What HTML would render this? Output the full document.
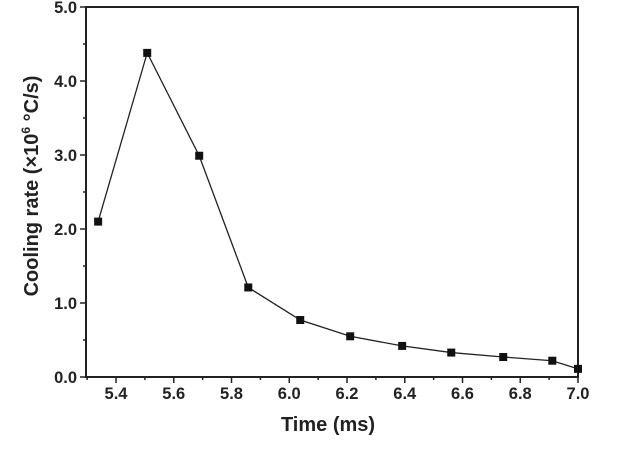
<!DOCTYPE html>
<html><head><meta charset="utf-8"><style>
body{margin:0;background:#fff;}
svg text{font-family:"Liberation Sans",Arial,sans-serif;font-weight:bold;fill:#222;}
</style></head><body>
<svg width="640" height="456" viewBox="0 0 640 456">
<g id="axes"></g><g id="series"></g>
</svg>
<script>
const times=[5.338,5.508,5.688,5.858,6.038,6.211,6.391,6.561,6.741,6.911,7.0];
const rates=[2.1,4.38,2.99,1.21,0.77,0.55,0.42,0.33,0.27,0.22,0.11];
const xTicks=["5.4","5.6","5.8","6.0","6.2","6.4","6.6","6.8","7.0"];
const yTicks=["0.0","1.0","2.0","3.0","4.0","5.0"];
const L=86,R=578,T=7,B=377,XMIN=5.296,XMAX=7.0,YMIN=0,YMAX=5;
const X=v=>L+(v-XMIN)/(XMAX-XMIN)*(R-L);
const Y=v=>B-(v-YMIN)/(YMAX-YMIN)*(B-T);
const NS="http://www.w3.org/2000/svg";
const ax=document.getElementById('axes'),se=document.getElementById('series');
function mk(tag,at,p){const e=document.createElementNS(NS,tag);for(const k in at)e.setAttribute(k,at[k]);p.appendChild(e);return e;}
let fr=mk('rect',{x:L,y:T,width:R-L,height:B-T,fill:'none',stroke:'#222','stroke-width':2},ax);


for(let v=5.3;v<=7.001;v+=0.1){const x=X(v);const major=Math.abs((v*10)%2)<0.01||Math.abs((v*10)%2-2)<0.01;
let t=mk('line',{x1:x,x2:x,y1:B,y2:B+(major?6:3),stroke:'#222','stroke-width':1.5},ax);

}
xTicks.forEach(s=>{let t=mk('text',{x:X(parseFloat(s)),y:B+22,'text-anchor':'middle','font-size':16.5},ax);t.textContent=s;

});
for(let v=0;v<=5.001;v+=0.5){const y=Y(v);const major=Math.abs(v-Math.round(v))<0.01;
let t=mk('line',{x1:L,x2:L-(major?6:3),y1:y,y2:y,stroke:'#222','stroke-width':1.5},ax);

}
yTicks.forEach(s=>{let t=mk('text',{x:L-9,y:Y(parseFloat(s))+6,'text-anchor':'end','font-size':16.5},ax);t.textContent=s;

});
let xt=mk('text',{x:328,y:431,'text-anchor':'middle','font-size':20},ax);xt.textContent='Time (ms)';


let yt=mk('text',{transform:`translate(38,${(T+B)/2-6}) rotate(-90)`,'text-anchor':'middle','font-size':20},ax);
yt.innerHTML='Cooling rate (×10<tspan dy="-8" font-size="12">6</tspan><tspan dy="8"> °C/s)</tspan>';


let pl=mk('polyline',{points:times.map((t,i)=>X(t)+','+Y(rates[i])).join(' '),fill:'none',stroke:'#222','stroke-width':1.3},se);


times.forEach((t,i)=>{let m=mk('rect',{x:X(t)-4,y:Y(rates[i])-4,width:8,height:8,fill:'#111'},se);

});
</script>
</body></html>
